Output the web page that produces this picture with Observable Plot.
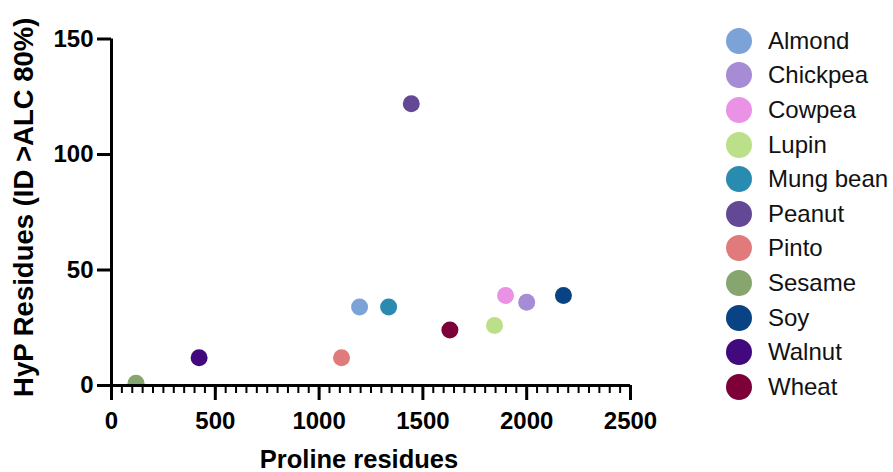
<!DOCTYPE html>
<html><head><meta charset="utf-8">
<script src="https://cdn.jsdelivr.net/npm/d3@7"></script>
<script src="https://cdn.jsdelivr.net/npm/@observablehq/plot@0.6"></script>
<style>
body{margin:0;background:#fff;font-family:"Liberation Sans",Arial,sans-serif;}
#wrap{position:relative;width:893px;height:472px;overflow:hidden;background:#fff;}
#chart{position:absolute;left:0;top:0;}
#legend{position:absolute;left:726px;top:23.5px;}
.row{display:flex;align-items:center;height:34.6px;}
.sw{width:26px;height:26px;border-radius:50%;margin-right:16px;flex:none;}
.lab{font-size:24px;color:#111;white-space:nowrap;}
</style></head><body>
<div id="wrap"><div id="chart"></div><div id="legend"></div></div>
<script>
const foods = ["Almond","Chickpea","Cowpea","Lupin","Mung bean","Peanut","Pinto","Sesame","Soy","Walnut","Wheat"];
const proline = [1195, 2000, 1898, 1845, 1335, 1444, 1108, 118, 2177, 422, 1630];
const hyp = [34, 36, 39, 26, 34, 122, 12, 1, 39, 12, 24];
const colors = ["#7BA3D8","#A68BD5","#EA93E6","#BCDF8A","#2A8BB0","#634896","#E07A7B","#87A56E","#0A4383","#42087E","#7E0038"];
const xTicks = [0, 500, 1000, 1500, 2000, 2500];
const xMinorTicks = d3.range(0, 2501, 50);
const yTicks = [0, 50, 100, 150];
const xLabel = "Proline residues";
const yLabel = "HyP Residues (ID >ALC 80%)";

const data = foods.map((f, i) => ({food: f, x: proline[i], y: hyp[i]}));
const font = "'Liberation Sans', Arial, sans-serif";

const chart = Plot.plot({
  width: 660, height: 472,
  marginLeft: 111, marginRight: 30, marginTop: 38.5, marginBottom: 87,
  style: {fontFamily: font, background: "white", color: "black", overflow: "visible"},
  x: {domain: [0, 2500]},
  y: {domain: [0, 150]},
  color: {domain: foods, range: colors},
  marks: [
    Plot.dot(data, {x: "x", y: "y", fill: "food", r: 8.5, clip: true}),
    Plot.axisX({ticks: xMinorTicks, tickSize: 8, strokeWidth: 2, fill: "none", label: null}),
    Plot.axisX({ticks: xTicks, tickSize: 15, strokeWidth: 3, tickPadding: 11, fontSize: 24, fontWeight: "bold", tickFormat: d => String(d), label: null}),
    Plot.axisY({ticks: yTicks, tickSize: 14, strokeWidth: 3, tickPadding: 4, fontSize: 24, fontWeight: "bold", tickFormat: d => String(d), label: null}),
    Plot.ruleX([0], {strokeWidth: 3}),
    Plot.ruleY([0], {strokeWidth: 3}),
    Plot.text([xLabel], {frameAnchor: "bottom", dx: -12, dy: 82, fontSize: 25.5, fontWeight: "bold", fill: "black"}),
    Plot.text([yLabel], {frameAnchor: "left", textAnchor: "middle", dx: -87, dy: -5, rotate: -90, fontSize: 27.5, fontWeight: "bold", fill: "black"})
  ]
});
document.getElementById("chart").appendChild(chart);

const legend = document.getElementById("legend");
foods.forEach((f, i) => {
  const row = document.createElement("div");
  row.className = "row";
  const sw = document.createElement("div");
  sw.className = "sw";
  sw.style.background = colors[i];
  const lab = document.createElement("span");
  lab.className = "lab";
  lab.textContent = f;
  row.appendChild(sw); row.appendChild(lab);
  legend.appendChild(row);
});
</script>
</body></html>
